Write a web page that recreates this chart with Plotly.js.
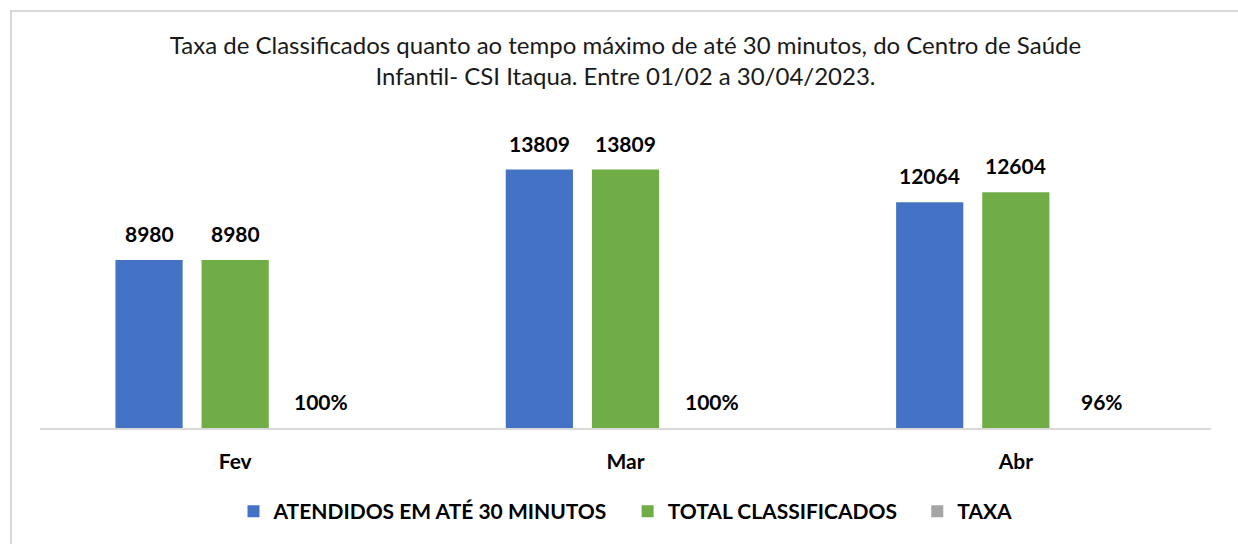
<!DOCTYPE html>
<html>
<head>
<meta charset="utf-8">
<script src="https://cdn.plot.ly/plotly-3.0.1.min.js"></script>
<style>
  html, body { margin: 0; padding: 0; background: #fff; overflow: hidden; }
  #wrap { position: relative; width: 1238px; height: 544px; }
  #chart { width: 1238px; height: 544px; }
  #frame { position: absolute; left: 10px; top: 10px; width: 1240px; height: 540px;
           border: 2px solid #d9d9d9; pointer-events: none; box-sizing: border-box; }
</style>
</head>
<body>
<div id="wrap"><div id="chart"></div><div id="frame"></div></div>
<script>
const months = ['Fev', 'Mar', 'Abr'];
const atendidos = [8980, 13809, 12064];
const classificados = [8980, 13809, 12604];
const taxa = [1.00, 1.00, 0.96];

const seriesNames = ['ATENDIDOS EM ATÉ 30 MINUTOS', 'TOTAL CLASSIFICADOS', 'TAXA'];
const colors = ['#4472c4', '#70ad47', '#a5a5a5'];
const FONT = 'Lato, "Open Sans", sans-serif';
const PAD = '\u00a0\u00a0\u00a0';

const seriesData = [atendidos, classificados, taxa];
const traces = seriesData.map((vals, i) => ({
  type: 'bar',
  name: seriesNames[i] + (i < 2 ? PAD : ''),
  x: months,
  y: vals,
  marker: { color: colors[i] },
  hoverinfo: 'skip'
}));

const labelFmt = [v => String(v), v => String(v), v => Math.round(v * 100) + '%'];
const xShifts = [-86, 0, 86];
const annotations = [];
seriesData.forEach((vals, i) => {
  vals.forEach((v, j) => {
    annotations.push({
      x: months[j], y: v, xref: 'x', yref: 'y',
      text: labelFmt[i](v),
      showarrow: false, xanchor: 'center', yanchor: 'bottom',
      xshift: xShifts[i], yshift: 12,
      font: { family: FONT, size: 21, color: '#000', weight: 'bold' }
    });
  });
});

const layout = {
  width: 1238, height: 544,
  margin: { l: 40, r: 27, t: 100, b: 114 },
  paper_bgcolor: '#fff', plot_bgcolor: '#fff',
  font: { family: FONT, color: '#000' },
  title: {
    text: 'Taxa de Classificados quanto ao tempo máximo de até 30 minutos, do Centro de Saúde<br>Infantil- CSI Itaqua. Entre 01/02 a 30/04/2023.',
    font: { family: FONT, size: 24, color: '#1a1a1a' },
    x: 0.5, xanchor: 'center', xref: 'paper',
    y: 0.901, yanchor: 'top', yref: 'container'
  },
  barmode: 'group',
  bargap: 0.338,
  bargroupgap: 0.22,
  xaxis: {
    type: 'category',
    showline: true, linecolor: '#d9d9d9', linewidth: 1.5,
    showgrid: false, zeroline: false, ticks: '',
    ticklabelstandoff: 14,
    tickfont: { family: FONT, size: 21, color: '#000', weight: 'bold' },
    fixedrange: true
  },
  yaxis: {
    range: [0, 17530], visible: false, showgrid: false, zeroline: false, fixedrange: true
  },
  showlegend: true,
  legend: {
    orientation: 'h', x: 0.5, xanchor: 'center', y: -0.255, yanchor: 'middle',
    font: { family: FONT, size: 21, color: '#000', weight: 'bold' },
    traceorder: 'normal'
  },
  annotations: annotations
};

Plotly.newPlot('chart', traces, layout, { displayModeBar: false, staticPlot: true });
</script>
</body>
</html>
